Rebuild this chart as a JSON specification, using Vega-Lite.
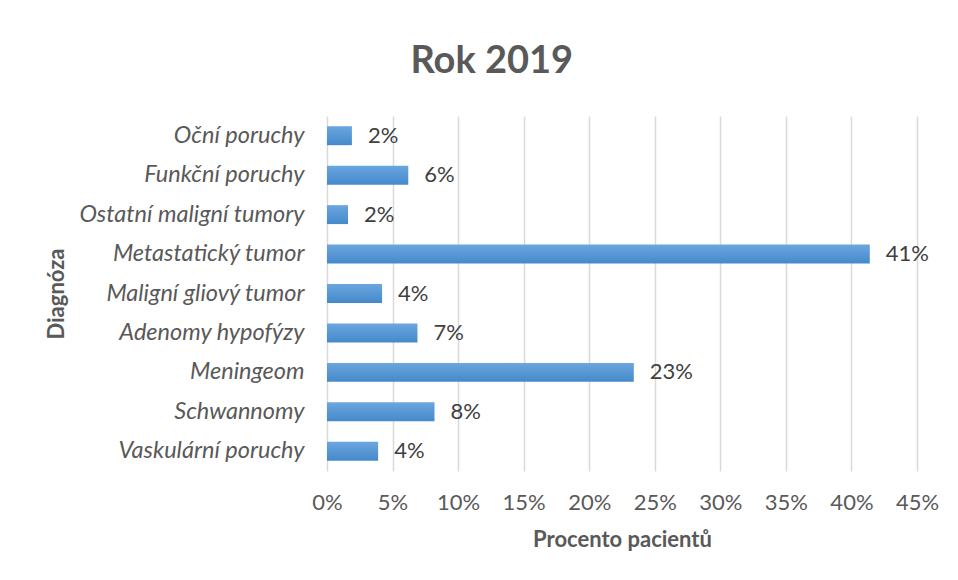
{
  "$schema": "https://vega.github.io/schema/vega-lite/v6.json",
  "width": 590,
  "height": 355,
  "padding": {"left": 45, "top": 43, "right": 10, "bottom": 10},
  "background": "white",
  "title": {
    "text": "Rok 2019",
    "font": "Lato",
    "fontSize": 38,
    "fontWeight": "bold",
    "color": "#595959",
    "anchor": "middle",
    "frame": "bounds",
    "offset": 35
  },
  "data": {
    "values": [
      {"diagnoza": "Oční poruchy", "podil": 0.019},
      {"diagnoza": "Funkční poruchy", "podil": 0.062},
      {"diagnoza": "Ostatní maligní tumory", "podil": 0.016},
      {"diagnoza": "Metastatický tumor", "podil": 0.414},
      {"diagnoza": "Maligní gliový tumor", "podil": 0.042},
      {"diagnoza": "Adenomy hypofýzy", "podil": 0.069},
      {"diagnoza": "Meningeom", "podil": 0.234},
      {"diagnoza": "Schwannomy", "podil": 0.082},
      {"diagnoza": "Vaskulární poruchy", "podil": 0.039}
    ]
  },
  "encoding": {
    "y": {
      "field": "diagnoza",
      "type": "nominal",
      "sort": null,
      "scale": {"paddingInner": 0.52, "paddingOuter": 0.26},
      "axis": {
        "title": "Diagnóza",
        "titleFont": "Lato",
        "titleFontSize": 22,
        "titleFontWeight": "bold",
        "titleColor": "#595959",
        "titlePadding": 59,
        "labelFont": "Lato",
        "labelFontStyle": "italic",
        "labelFontSize": 23.5,
        "labelColor": "#595959",
        "labelPadding": 23,
        "labelLimit": 400,
        "ticks": false,
        "domain": false,
        "grid": false
      }
    },
    "x": {
      "field": "podil",
      "type": "quantitative",
      "scale": {"domain": [0, 0.45], "nice": false},
      "axis": {
        "title": "Procento pacientů",
        "format": ".0%",
        "values": [0, 0.05, 0.1, 0.15, 0.2, 0.25, 0.3, 0.35, 0.4, 0.45],
        "titleFont": "Lato",
        "titleFontSize": 22,
        "titleFontWeight": "bold",
        "titleColor": "#595959",
        "titlePadding": 16,
        "labelFont": "Lato",
        "labelFontSize": 22,
        "labelColor": "#595959",
        "labelPadding": 21,
        "labelFlush": false,
        "labelOverlap": false,
        "ticks": false,
        "domain": false,
        "grid": true,
        "gridColor": "#d9d9d9",
        "gridWidth": 1.5
      }
    }
  },
  "layer": [
    {
      "mark": {
        "type": "bar",
        "fill": {
          "gradient": "linear",
          "x1": 0, "y1": 0, "x2": 0, "y2": 1,
          "stops": [
            {"offset": 0, "color": "#6ba6df"},
            {"offset": 1, "color": "#4589cb"}
          ]
        }
      }
    },
    {
      "mark": {
        "type": "text",
        "align": "left",
        "baseline": "middle",
        "dx": 16,
        "font": "Lato",
        "fontSize": 22,
        "color": "#404040"
      },
      "encoding": {
        "text": {"field": "podil", "type": "quantitative", "format": ".0%"}
      }
    }
  ],
  "config": {
    "view": {"stroke": null}
  }
}
